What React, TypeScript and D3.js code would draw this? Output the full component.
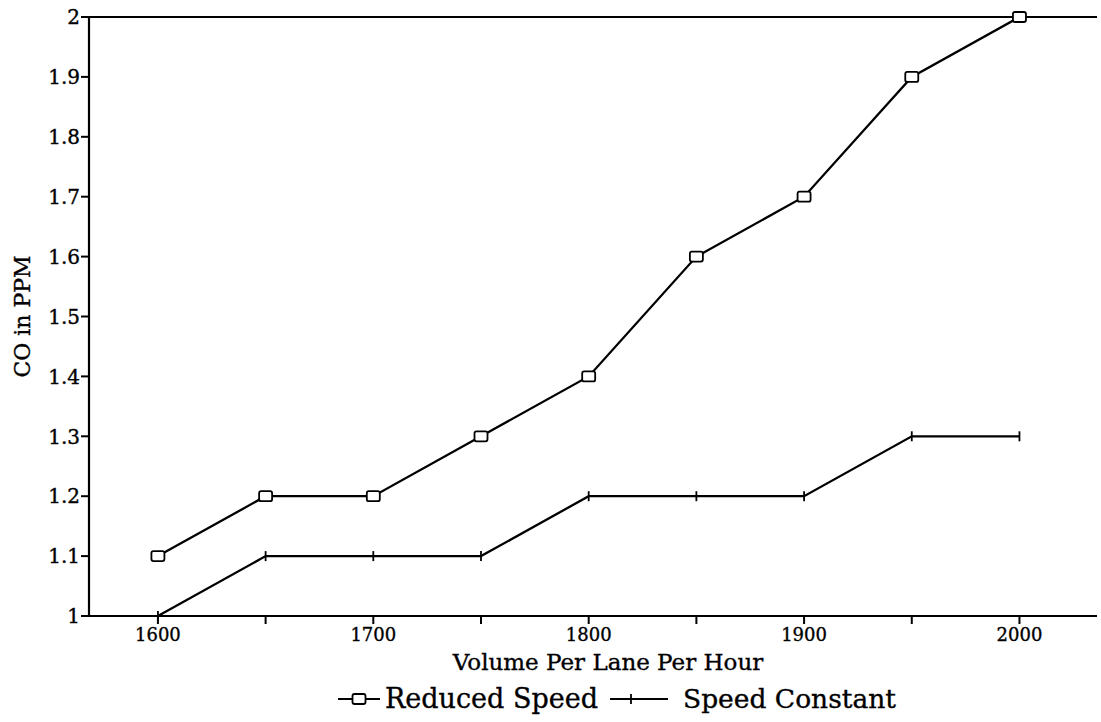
import * as d3 from 'd3';

const volumes = [1600, 1650, 1700, 1750, 1800, 1850, 1900, 1950, 2000];
const reducedSpeed = [1.1, 1.2, 1.2, 1.3, 1.4, 1.6, 1.7, 1.9, 2.0];
const speedConstant = [1.0, 1.1, 1.1, 1.1, 1.2, 1.2, 1.2, 1.3, 1.3];
const xTicks = [1600, 1650, 1700, 1750, 1800, 1850, 1900, 1950, 2000];
const xTickLabels = [1600, 1700, 1800, 1900, 2000];
const yTicks = [1, 1.1, 1.2, 1.3, 1.4, 1.5, 1.6, 1.7, 1.8, 1.9, 2];

const W = 1101;
const H = 722;
const font = '"DejaVu Serif", "Liberation Serif", serif';

export default function App() {
  const left = 89;
  const right = 1097;
  const top = 17;
  const bottom = 616;

  const x = d3.scaleLinear().domain([1568, 2036]).range([left, right]);
  const y = d3.scaleLinear().domain([1, 2]).range([bottom, top]);

  const line = d3.line<number>()
    .x((_, i) => x(volumes[i]))
    .y(d => y(d));

  const fmt = (v: number) => (Number.isInteger(v) ? `${v}` : v.toFixed(1));

  const square = (cx: number, cy: number, key: string | number) => (
    <rect key={key} x={cx - 6.5} y={cy - 5} width={13} height={10} rx={2}
      fill="#fff" stroke="#000" strokeWidth={1.8} />
  );
  const plus = (cx: number, cy: number, key: string | number) => (
    <line key={key} x1={cx} x2={cx} y1={cy - 5} y2={cy + 5} stroke="#000" strokeWidth={1.8} />
  );

  // slight outline to thicken text like the scanned original
  const ink = { fill: '#000', stroke: '#000', strokeWidth: 0.35 };

  return (
    <svg width={W} height={H} style={{ position: 'absolute', left: 0, top: 0, background: '#fff' }}
      fontFamily={font}>
      {/* frame */}
      <line x1={left} x2={right} y1={top} y2={top} stroke="#000" strokeWidth={2.2} />
      <line x1={left} x2={left} y1={top} y2={bottom} stroke="#000" strokeWidth={2.2} />
      <line x1={left} x2={right} y1={bottom} y2={bottom} stroke="#000" strokeWidth={2.2} />

      {/* y axis */}
      {yTicks.map(t => (
        <g key={t}>
          <line x1={left - 8} x2={left} y1={y(t)} y2={y(t)} stroke="#000" strokeWidth={2} />
          <text x={left - 9} y={y(t)} dy="0.36em" textAnchor="end" fontSize={20} {...ink}>{fmt(t)}</text>
        </g>
      ))}
      <text transform={`translate(30,${(top + bottom) / 2}) rotate(-90)`} textAnchor="middle"
        fontSize={22} {...ink}>CO in PPM</text>

      {/* x axis */}
      {xTicks.map(t => (
        <line key={t} x1={x(t)} x2={x(t)} y1={bottom} y2={bottom + 8} stroke="#000" strokeWidth={2} />
      ))}
      {xTickLabels.map(t => (
        <text key={t} x={x(t)} y={641} textAnchor="middle" fontSize={18} {...ink}>{t}</text>
      ))}
      <text x={608} y={670} textAnchor="middle" fontSize={23} {...ink}>Volume Per Lane Per Hour</text>

      {/* series */}
      <path d={line(reducedSpeed) ?? ''} fill="none" stroke="#000" strokeWidth={2.3} />
      <path d={line(speedConstant) ?? ''} fill="none" stroke="#000" strokeWidth={2.3} />
      {reducedSpeed.map((v, i) => square(x(volumes[i]), y(v), i))}
      {speedConstant.map((v, i) => plus(x(volumes[i]), y(v), i))}

      {/* legend */}
      <line x1={338} x2={380} y1={699} y2={699} stroke="#000" strokeWidth={1.8} />
      {square(359, 699, 'lg1')}
      <text x={385} y={708} fontSize={27} {...ink}>Reduced Speed</text>
      <line x1={610} x2={668} y1={699} y2={699} stroke="#000" strokeWidth={1.8} />
      {plus(631, 699, 'lg2')}
      <text x={683} y={708} fontSize={26.5} {...ink}>Speed Constant</text>
    </svg>
  );
}
